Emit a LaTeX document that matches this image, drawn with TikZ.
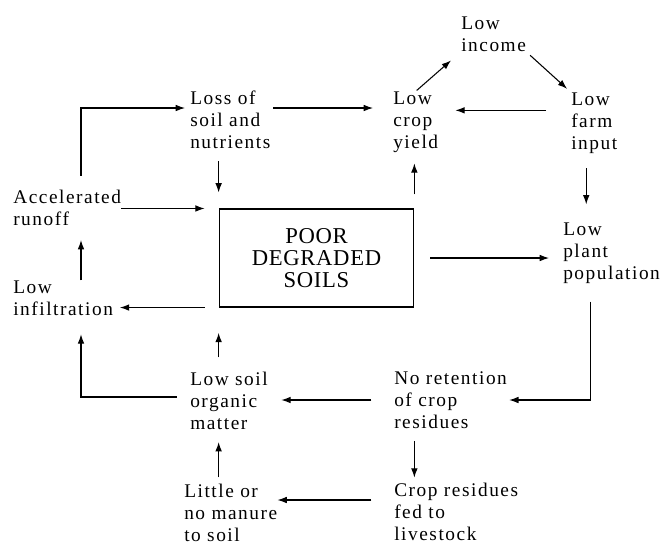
\documentclass[tikz,border=0pt]{standalone}
\usepackage{fontspec}
\setmainfont{Liberation Serif}[LetterSpace=8]
\newfontfamily\boxfont{Liberation Serif}[LetterSpace=3]
\usetikzlibrary{arrows.meta}

\begin{document}
\begin{tikzpicture}[
		x=0.75pt, y=-0.75pt,
		every node/.style={align=left, anchor=west, inner sep=0pt, font=\fontsize{14.5}{16.5}\selectfont},
		arr/.style={draw, line width=0.8pt, -{Latex[length=7pt,width=5pt]}}
	]
  \useasboundingbox (0,0) rectangle (663,544);
  \node (box) [draw, line width=0.8pt, anchor=center, align=center, minimum width=146pt, minimum height=73.5pt,
    font=\boxfont\fontsize{17}{16.5}\selectfont] at (316.5,258) {POOR\\DEGRADED\\SOILS};
  \node (loss) at (190,120) {Loss of\\soil and\\nutrients};
  \node (yield) at (393,122) {Low\\crop\\yield};
  \node (income) at (461,34) {Low\\income};
  \node (farm) at (571,123) {Low\\farm\\input};
  \node (runoff) at (13,208) {Accelerated\\runoff};
  \node (plant) at (563,253) {Low\\plant\\population};
  \node (infil) at (13,298) {Low\\infiltration};
  \node (som) at (190,401) {Low soil\\organic\\matter};
  \node (noret) at (394,400) {No retention\\of crop\\residues};
  \node (little) at (184,513) {Little or\\no manure\\to soil};
  \node (fed) at (394,512) {Crop residues\\fed to\\livestock};
  \coordinate (lcol) at (81,0);
  % upper loop
  \draw[arr, shorten <=10.5pt, shorten >=3.75pt] (runoff.north -| lcol) |- ([yshift=9pt]loss.west);
  \draw[arr, shorten <=2pt, shorten >=15pt] ([yshift=9pt]loss.east) -- ([yshift=9pt]loss.east -| yield.west);
  \draw[arr, shorten <=18.75pt, shorten >=12.75pt] ([yshift=9.5pt]farm.west) -- ([yshift=9.5pt]farm.west -| yield.east);
  \draw[arr, shorten <=1pt, shorten >=10pt] (yield.north) -- (income.south west);
  \draw[arr, shorten <=4pt, shorten >=4pt] (income.south east) -- (farm.north west);
  \draw[arr, shorten <=11pt, shorten >=13.5pt] ([xshift=-6pt]farm.south) -- ([xshift=-6pt]farm.south |- plant.north);
  \draw[arr, shorten <=10.5pt, shorten >=8pt] (box.north east) -- (box.north east |- yield.south);
  \draw[arr, shorten <=12pt, shorten >=10.5pt] (box.east) -- (box.east -| plant.west);
  % left side
  \draw[arr, shorten <=9pt, shorten >=12pt] (loss.south -| box.north west) -- (box.north west);
  \draw[arr, shorten >=10.5pt] (runoff.east |- box.north west) -- (box.north west);
  \draw[arr, shorten <=10.5pt, shorten >=5pt] (box.south west) -- (box.south west -| infil.east);
  \draw[arr, shorten >=10.5pt] (infil.north -| lcol) -- (runoff.south -| lcol);
  \draw[arr, shorten <=10pt, shorten >=14pt] ([yshift=3pt]som.west) -| (infil.south -| lcol);
  % lower loop
  \draw[arr, shorten <=11pt, shorten >=19pt] (som.north -| box.south west) -- (box.south west);
  \draw[arr, shorten <=5pt, shorten >=9pt] (little.north -| box.south west) -- (som.south -| box.south west);
  \draw[arr, shorten <=13.5pt, shorten >=1.5pt] ([xshift=-16pt]plant.south) |- (noret.east);
  \draw[arr, shorten <=17pt, shorten >=10pt] (noret.west) -- (noret.west -| som.east);
  \draw[arr, shorten <=9pt, shorten >=4pt] (noret.south -| box.east) -- (fed.north -| box.east);
  \draw[arr, shorten <=17pt] ([yshift=9pt]fed.west) -- ([yshift=9pt]fed.west -| little.east);
\end{tikzpicture}
\end{document}
